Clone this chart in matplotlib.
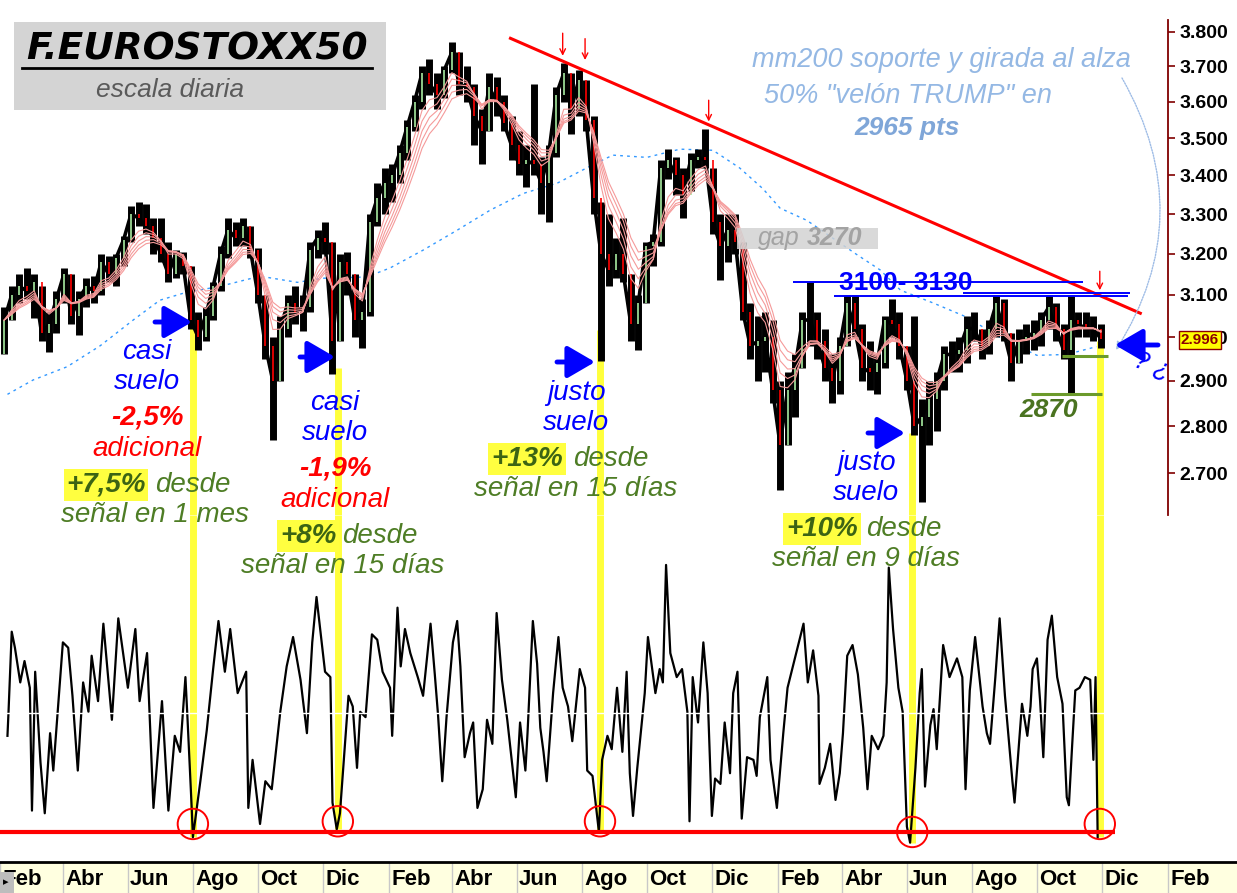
import numpy as np
import pandas as pd
import matplotlib
matplotlib.use('Agg')
import matplotlib.pyplot as plt
from matplotlib.ticker import FixedLocator, FuncFormatter, NullLocator
from matplotlib.patches import Rectangle, FancyArrowPatch
from matplotlib.lines import Line2D

plt.rcParams['font.family'] = ['Liberation Sans', 'DejaVu Sans']

# F.EUROSTOXX50, velas semanales (dias contados desde el 1-feb-2014)
t0 = pd.Timestamp('2014-02-01')
first_day = 4

wk_high = [3070, 3120, 3150, 3165, 3150, 3120, 3060, 3110, 3165, 3150,
           3110, 3140, 3145, 3200, 3195, 3200, 3245, 3320, 3330, 3325,
           3290, 3290, 3230, 3210, 3205, 3170, 3060, 3070, 3130, 3220,
           3290, 3280, 3290, 3270, 3215, 3100, 3000, 3050, 3100, 3120,
           3100, 3230, 3260, 3280, 3230, 3200, 3205, 3150, 3090, 3300,
           3380, 3420, 3430, 3480, 3550, 3620, 3700, 3720, 3680, 3700,
           3770, 3740, 3700, 3650, 3580, 3680, 3670, 3620, 3560, 3520,
           3480, 3650, 3450, 3480, 3640, 3710, 3680, 3690, 3660, 3560,
           3330, 3300, 3240, 3290, 3150, 3100, 3230, 3250, 3440, 3470,
           3450, 3420, 3460, 3470, 3525, 3420, 3300, 3300, 3300, 3230,
           3080, 3050, 3060, 3040, 2900, 2920, 2960, 3060, 3130, 3060,
           3020, 2960, 3000, 3100, 3100, 3030, 2990, 2960, 3050, 3090,
           3060, 2980, 3050, 2860, 2900, 2920, 2980, 2990, 3000, 3050,
           3060, 3020, 3040, 3100, 3090, 3010, 3020, 3030, 3040, 3060,
           3100, 3080, 3030, 3100, 3060, 3060, 3050, 3030]
wk_low = [2960, 3040, 3080, 3090, 3045, 2990, 2965, 3010, 3080, 3030,
          3005, 3070, 3080, 3100, 3130, 3120, 3170, 3230, 3270, 3250,
          3200, 3180, 3130, 3140, 3150, 3020, 2970, 2990, 3040, 3110,
          3190, 3220, 3220, 3190, 3080, 2950, 2770, 2900, 3000, 3030,
          3015, 3060, 3190, 3200, 2915, 2990, 3100, 3000, 2975, 3050,
          3270, 3300, 3330, 3380, 3440, 3520, 3580, 3620, 3580, 3610,
          3680, 3620, 3600, 3480, 3430, 3520, 3560, 3520, 3440, 3400,
          3370, 3400, 3300, 3280, 3450, 3600, 3510, 3560, 3520, 3300,
          2945, 3120, 3140, 3130, 2990, 2970, 3080, 3170, 3220, 3390,
          3350, 3290, 3360, 3420, 3420, 3250, 3135, 3180, 3200, 3040,
          2950, 2900, 2920, 2850, 2665, 2760, 2820, 2930, 2980, 2950,
          2900, 2850, 2870, 2980, 3000, 2900, 2880, 2870, 2930, 3000,
          2950, 2880, 2780, 2640, 2760, 2790, 2880, 2920, 2920, 2940,
          2990, 2950, 2960, 3000, 2990, 2900, 2940, 2960, 2970, 2980,
          3020, 2990, 2950, 2870, 3000, 3000, 2990, 2975]
wk_close = [3040, 3100, 3120, 3110, 3130, 3010, 3030, 3090, 3150, 3050,
            3090, 3120, 3110, 3180, 3150, 3190, 3235, 3300, 3290, 3270,
            3240, 3200, 3150, 3200, 3170, 3040, 3000, 3050, 3120, 3200,
            3260, 3240, 3270, 3210, 3100, 2980, 2900, 3020, 3080, 3060,
            3070, 3210, 3240, 3230, 2990, 3180, 3150, 3040, 3060, 3280,
            3340, 3380, 3400, 3460, 3530, 3600, 3680, 3650, 3620, 3690,
            3740, 3650, 3640, 3560, 3520, 3640, 3600, 3540, 3480, 3430,
            3440, 3430, 3380, 3460, 3620, 3680, 3580, 3660, 3550, 3340,
            3200, 3160, 3200, 3150, 3030, 3080, 3220, 3230, 3420, 3440,
            3400, 3350, 3440, 3450, 3440, 3280, 3220, 3260, 3230, 3060,
            2980, 2990, 3000, 2880, 2760, 2880, 2930, 3040, 3040, 2990,
            2930, 2900, 2980, 3080, 3020, 2930, 2920, 2940, 3040, 3030,
            2980, 2900, 2800, 2820, 2860, 2900, 2960, 2960, 2970, 3020,
            3020, 2980, 3020, 3080, 3010, 2940, 2990, 3000, 3010, 3040,
            3070, 3020, 2970, 3040, 3030, 3020, 3020, 2996]

# media de 200 sesiones (azul punteada)
mm200_day = [7, 31, 63, 94, 125, 150, 175, 206, 244, 279, 303, 344, 366, 397,
             429, 460, 491, 523, 554, 575, 607, 638, 669, 694, 716, 732, 757,
             804, 826, 845, 876, 907, 938, 973, 1001, 1029]
mm200_val = [2870, 2902, 2932, 2980, 3040, 3087, 3106, 3120, 3145, 3130, 3140,
             3143, 3165, 3209, 3259, 3310, 3353, 3380, 3425, 3454, 3448, 3470,
             3467, 3420, 3365, 3315, 3284, 3198, 3160, 3111, 3080, 3047, 3000,
             2958, 2960, 2978]

# oscilador inferior (0 = linea roja)
osc_day = [7, 8, 11, 14, 19, 23, 28, 30, 33, 38, 42, 47, 50, 59, 64, 68, 73, 78,
           83, 86, 92, 97, 105, 111, 120, 127, 131, 138, 144, 152, 158, 164, 169,
           174, 176, 180, 181, 188, 194, 200, 205, 211, 216, 223, 231, 233, 237,
           244, 249, 255, 263, 269, 275, 282, 288, 293, 297, 305, 310, 312, 316,
           319, 327, 331, 335, 338, 343, 349, 354, 359, 366, 368, 373, 376, 380,
           385, 392, 397, 404, 408, 411, 415, 419, 425, 429, 432, 436, 441, 444,
           448, 453, 457, 462, 466, 471, 476, 479, 484, 488, 493, 495, 500, 504,
           507, 510, 513, 519, 524, 528, 533, 537, 544, 549, 551, 556, 562, 565,
           570, 574, 579, 584, 588, 591, 594, 598, 601, 605, 608, 615, 619, 622,
           625, 629, 635, 640, 645, 647, 650, 655, 660, 664, 668, 671, 676, 680,
           685, 688, 692, 696, 701, 707, 710, 713, 720, 723, 729, 735, 739, 744,
           754, 758, 763, 768, 769, 774, 779, 784, 788, 791, 795, 800, 805, 810,
           814, 818, 824, 829, 832, 834, 838, 843, 847, 851, 854, 859, 863, 865,
           868, 873, 876, 879, 885, 891, 898, 903, 906, 910, 915, 922, 926, 929,
           934, 938, 943, 950, 952, 959, 964, 967, 969, 973, 976, 979, 983, 987,
           992, 997, 1001, 1003, 1006, 1009, 1013, 1018, 1023, 1026, 1028, 1030]
osc_val = [36, 45, 75, 69, 56, 64, 54, 8, 60, 26, 7, 37, 23, 71, 69, 51, 23, 56,
           45, 66, 49, 78, 42, 80, 54, 76, 49, 67, 9, 49, 8, 36, 30,
           58, 42, 8, -2, 19, 38, 61, 79, 60, 76, 52, 60, 9, 27,
           3, 19, 16, 45, 62, 73, 57, 37, 71, 88, 60, 58, 11, 1,
           7, 51, 47, 24, 45, 43, 74, 72, 60, 54, 36, 84, 62, 76,
           67, 58, 51, 78, 59, 44, 19, 43, 71, 79, 62, 28, 37, 41,
           9, 16, 42, 33, 82, 57, 42, 31, 13, 41, 23, 37, 79, 63,
           39, 30, 19, 52, 73, 54, 47, 34, 61, 54, 23, 21, 0, 27,
           36, 31, 54, 30, 60, 22, 6, 24, 36, 52, 73, 52, 61, 56,
           100, 67, 58, 61, 45, 4, 58, 41, 71, 52, 6, 20, 18, 41,
           22, 52, 60, 5, 28, 27, 21, 43, 58, 27, 9, 37, 54, 62,
           78, 56, 68, 51, 18, 24, 33, 12, 22, 37, 66, 70, 59, 39,
           16, 36, 31, 36, 56, 99, 76, 54, 45, 2, -4, 24, 52, 61,
           17, 40, 46, 31, 70, 58, 65, 58, 16, 53, 73, 47, 37, 33,
           58, 80, 51, 19, 11, 48, 36, 47, 61, 65, 49, 28, 72, 81,
           58, 48, 13, 10, 32, 53, 54, 58, 57, 27, 58, -2]

# senales (lineas amarillas y circulos rojos)
sig_day = [181, 317, 563, 856, 1032]
sig_price = [3034, 2930, 3016, 2785, 2990]
sig_osc = [-2, 1, 0, -4, -2]
circ_osc = [3, 4, 4, 0, 3]

# directriz bajista y flechas de maximos
trend_day = [479, 1070]
trend_val = [3781, 3056]
peak_day = [528, 549, 665, 1032]
peak_from = [3796, 3780, 3604, 3157]
peak_to = [3730, 3718, 3545, 3111]

res_val = [3130, 3098, 3104]
res_from = [744, 783, 904]
res_to = [1016, 1058, 1060]
sup_val = [2870, 2956]
sup_from = [967, 997]
sup_to = [1034, 1040]

price_ticks = [2700, 2800, 2900, 3000, 3100, 3200, 3300, 3400, 3500, 3600, 3700, 3800]
meses = {2: 'Feb', 4: 'Abr', 6: 'Jun', 8: 'Ago', 10: 'Oct', 12: 'Dic'}

W, H = 1237, 893
fig = plt.figure(figsize=(W / 100, H / 100), dpi=100)
fig.patch.set_facecolor('white')


def fp(x, y):
    return (x / W, 1 - y / H)


def ftxt(x, y, s, **kw):
    kw.setdefault('ha', 'center')
    kw.setdefault('va', 'center')
    return fig.text(x / W, 1 - y / H, s, **kw)


def farrow(x0, y0, x1, y1, **kw):
    fig.add_artist(FancyArrowPatch(fp(x0, y0), fp(x1, y1), transform=fig.transFigure,
                                   shrinkA=0, shrinkB=0, **kw))


xmax = 1096
ax = fig.add_axes([0, 1 - 515 / H, 1168 / W, 495 / H])
ax_osc = fig.add_axes([0, 1 - 860 / H, 1168 / W, 345 / H])
ax_date = fig.add_axes([0, 0, 1, 31 / H])

# ---- precio
ax.set_facecolor('none')
ax.set_yscale('log')
ax.set_xlim(0, xmax)
ax.set_ylim(2614, 3835)
for s in ['top', 'left', 'bottom']:
    ax.spines[s].set_visible(False)
ax.spines['right'].set_color('#800000')
ax.spines['right'].set_linewidth(1.3)
ax.yaxis.tick_right()
ax.yaxis.set_major_locator(FixedLocator(price_ticks))
ax.yaxis.set_minor_locator(NullLocator())
ax.yaxis.set_major_formatter(FuncFormatter(lambda v, _: f'{v / 1000:.3f}'))
ax.tick_params(axis='y', colors='#800000', length=5, width=1.2, pad=3, labelsize=14,
               labelcolor='black')
for lab in ax.get_yticklabels():
    lab.set_fontweight('bold')
ax.set_xticks([])

days_w = first_day + 7 * np.arange(len(wk_close))
hi = np.array(wk_high)
lo = np.array(wk_low)
cl = np.array(wk_close)
op = np.r_[lo[0], cl[:-1]]
up = cl >= op

ax.vlines(sig_day, 2614, sig_price, color='#FFFF3C', lw=5, zorder=1)
ax.plot(mm200_day, mm200_val, color='#3399FF', lw=1, ls=(0, (2, 3)), zorder=2)
ax.vlines(days_w, lo, hi, color='black', lw=5, zorder=3)
ax.plot(days_w, cl, color='black', lw=2.6, zorder=3)
ax.vlines(days_w[up], op[up], cl[up], color='#A8EBA0', lw=1.2, zorder=4)
ax.vlines(days_w[~up], cl[~up], op[~up], color='#FF0000', lw=1.2, zorder=4)
closes = pd.Series(cl, dtype=float)
for span in [4, 5, 6, 7, 8]:
    ax.plot(days_w, closes.ewm(span=span, adjust=False).mean(), color='#F59A9A', lw=0.8, zorder=5)

ax.plot(trend_day, trend_val, color='red', lw=2.2, zorder=6)
for d, a, b in zip(peak_day, peak_from, peak_to):
    ax.annotate('', xy=(d, b), xytext=(d, a),
                arrowprops=dict(arrowstyle='->', color='red', lw=1, shrinkA=0, shrinkB=0))
ax.hlines(res_val, res_from, res_to, color='blue', lw=1.4, zorder=6)
ax.hlines(sup_val, sup_from, sup_to, color='#6B9A2B', lw=2.2, zorder=6)

# ---- oscilador
ax_osc.set_facecolor('none')
ax_osc.set_xlim(0, xmax)
ax_osc.set_ylim(-10.5, 118.7)
ax_osc.axis('off')
ax_osc.vlines(sig_day, sig_osc, 118.7, color='#FFFF3C', lw=5, zorder=1)
ax_osc.plot(osc_day, osc_val, color='black', lw=1.6, zorder=3)
ax_osc.axhline(44.6, color='white', lw=1, zorder=4)
ax_osc.hlines(0, 0, 1046, color='red', lw=3, zorder=4)
ax_osc.scatter(sig_day, circ_osc, s=480, facecolors='none', edgecolors='red', lw=1.4, zorder=5)

# ---- eje de fechas
ax_date.set_facecolor('#FFFFE0')
ax_date.set_xlim(0, xmax * W / 1168)
ax_date.set_ylim(0, 1)
ax_date.set_xticks([])
ax_date.set_yticks([])
for s in ['left', 'right', 'bottom']:
    ax_date.spines[s].set_visible(False)
ax_date.spines['top'].set_linewidth(2)
months = pd.date_range('2014-02-01', '2017-02-01', freq='2MS')
for m in months:
    d = (m - t0).days
    ax_date.axvline(d, color='#C8C8C8', lw=1)
    ax_date.text(d + 2, 0.42, meses[m.month], ha='left', va='center', fontsize=16,
                 fontweight='bold')
fig.add_artist(Rectangle(fp(0, 893), 14 / W, 21 / H, transform=fig.transFigure,
                         facecolor='#BDBDBD', edgecolor='none', zorder=5))
ftxt(6, 882, '▸', fontsize=8, color='black', family='DejaVu Sans', zorder=6)

# ---- titulo
fig.add_artist(Rectangle(fp(14, 110), 372 / W, 88 / H, transform=fig.transFigure,
                         facecolor='#D4D4D4', edgecolor='none', zorder=0))
ftxt(197, 49, 'F.EUROSTOXX50', fontsize=27, fontweight='bold', style='italic',
     family='DejaVu Sans')
fig.add_artist(Line2D([22 / W, 372 / W], [1 - 68 / H] * 2, color='black', lw=2,
                      transform=fig.transFigure))
ftxt(170, 90, 'escala diaria', fontsize=19, style='italic', color='#5A5A5A')

# ---- notas
lblue = '#94B8E4'
ftxt(941, 60, 'mm200 soporte y girada al alza', fontsize=19.5, style='italic', color=lblue)
ftxt(908, 96, '50% "velón TRUMP" en', fontsize=19.5, style='italic', color=lblue)
ftxt(907, 128, '2965 pts', fontsize=19, style='italic', fontweight='bold', color='#7FA6D8')
farrow(1122, 78, 1116, 350, connectionstyle='arc3,rad=-0.3', arrowstyle='-|>',
       mutation_scale=12, color='#9EBCE6', lw=1, linestyle=(0, (1, 1)))

fig.add_artist(Rectangle(fp(737, 249), 141 / W, 21 / H, transform=fig.transFigure,
                         facecolor='#D3D3D3', edgecolor='none', alpha=0.85, zorder=2))
ftxt(758, 238, 'gap', ha='left', fontsize=18, style='italic', color='#A3A3A3', zorder=3)
ftxt(807, 238, '3270', ha='left', fontsize=18, style='italic', fontweight='bold',
     color='#A3A3A3', zorder=3)

ftxt(906, 283, '3100- 3130', fontsize=19, fontweight='bold', color='blue')
ftxt(1049, 410, '2870', fontsize=19, fontweight='bold', style='italic', color='#4A7320')

ftxt(1200, 340, '2.996', fontsize=11, fontweight='bold', color='#8B0000', zorder=6,
     bbox=dict(boxstyle='square,pad=0.15', fc='#FFFF00', ec='#8B0000', lw=1))

for x0, y0, x1 in [(155, 322, 192), (300, 357, 335), (557, 362, 595), (868, 433, 905),
                   (1158, 345, 1115)]:
    farrow(x0, y0, x1, y0, arrowstyle='-|>,head_length=0.6,head_width=0.35',
           mutation_scale=28, lw=3.5, color='blue')
ftxt(1152, 366, '? ¿', fontsize=18, style='italic', color='blue', rotation=-20)

green = '#4E7D25'
dgreen = '#3C6414'
hl = dict(boxstyle='square,pad=0.1', fc='#FFFF40', ec='none')
blocks = [
    # (x, y arriba, palabra, pct rojo, pct verde, x pct, x desde, senal)
    (147, 352, 'casi', '-2,5%', '+7,5%', 106, 155, 'señal en 1 mes'),
    (335, 403, 'casi', '-1,9%', '+8%', 308, 342, 'señal en 15 días'),
    (576, 393, 'justo', None, '+13%', 527, 573, 'señal en 15 días'),
    (866, 463, 'justo', None, '+10%', 822, 866, 'señal en 9 días'),
]
for x, y, w1, red, pct, xp, xd, senal in blocks:
    ftxt(x, y, w1, fontsize=20, style='italic', color='blue')
    ftxt(x, y + 30, 'suelo', fontsize=20, style='italic', color='blue')
    yy = y + 30
    if red:
        ftxt(x, yy + 35, red, fontsize=20, style='italic', fontweight='bold', color='red')
        ftxt(x, yy + 67, 'adicional', fontsize=20, style='italic', color='red')
        yy += 67
    ftxt(xp, yy + 36, pct, fontsize=20, style='italic', fontweight='bold', color=dgreen,
         bbox=hl)
    ftxt(xd, yy + 36, 'desde', ha='left', fontsize=20, style='italic', color=green)
    ftxt(x + 8 if red else x, yy + 66, senal, fontsize=20, style='italic', color=green)

fig.savefig('out.png', dpi=100)
